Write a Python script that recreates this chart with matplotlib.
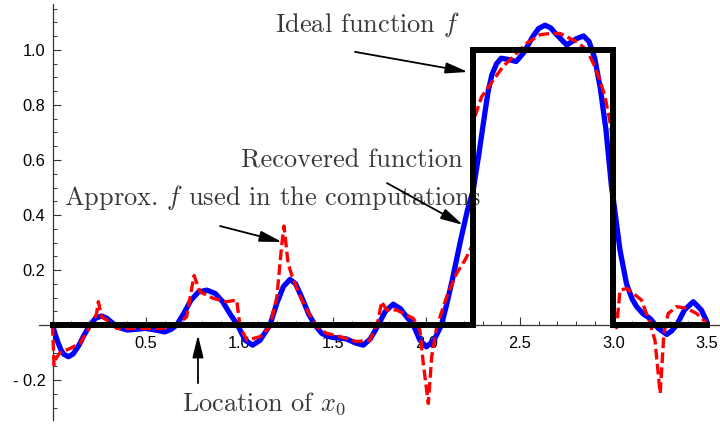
import numpy as np
import matplotlib
matplotlib.use('Agg')
import matplotlib.pyplot as plt
from matplotlib.ticker import MultipleLocator, FuncFormatter

# ideal step function f
ideal_x = [0.0, 2.25, 2.25, 3.0, 3.0, 3.5]
ideal_y = [0.0, 0.0, 1.0, 1.0, 0.0, 0.0]

# recovered function (blue)
rec_x = [0.00, 0.015, 0.03, 0.045, 0.06, 0.085, 0.11, 0.14, 0.17, 0.20, 0.23, 0.263, 0.29,
         0.32, 0.35, 0.40, 0.45, 0.50, 0.55, 0.60, 0.635, 0.664, 0.70, 0.74, 0.78, 0.825,
         0.87, 0.91, 0.95, 0.99, 1.03, 1.07, 1.11, 1.163, 1.20, 1.235, 1.27, 1.30, 1.34,
         1.37, 1.404, 1.44, 1.47, 1.50, 1.53, 1.57, 1.62, 1.662, 1.70, 1.742, 1.78, 1.822,
         1.86, 1.90, 1.93, 1.965, 2.00, 2.04, 2.08, 2.11, 2.14, 2.18, 2.22, 2.25, 2.28,
         2.31, 2.33, 2.35, 2.375, 2.40, 2.44, 2.48, 2.52, 2.57, 2.60, 2.634, 2.665, 2.69,
         2.75, 2.80, 2.84, 2.87, 2.90, 2.93, 2.96, 2.99, 3.00, 3.035, 3.07, 3.10, 3.124,
         3.16, 3.196, 3.24, 3.285, 3.31, 3.338, 3.38, 3.427, 3.47, 3.50]
rec_y = [0.000, -0.035, -0.065, -0.090, -0.106, -0.115, -0.105, -0.075, -0.035, 0.000, 0.025,
         0.033, 0.025, 0.008, -0.008, -0.018, -0.015, -0.012, -0.018, -0.025, -0.015, 0.000,
         0.040, 0.090, 0.120, 0.127, 0.115, 0.085, 0.040, 0.000, -0.055, -0.073, -0.055,
         0.000, 0.080, 0.140, 0.166, 0.150, 0.090, 0.040, 0.000, -0.030, -0.040, -0.045,
         -0.047, -0.050, -0.065, -0.073, -0.050, 0.000, 0.050, 0.076, 0.060, 0.025, 0.000,
         -0.055, -0.079, -0.055, 0.000, 0.080, 0.17, 0.30, 0.42, 0.49, 0.62, 0.76, 0.85,
         0.91, 0.95, 0.97, 0.965, 0.958, 0.99, 1.05, 1.078, 1.09, 1.08, 1.06, 1.018, 1.04,
         1.051, 1.03, 0.97, 0.86, 0.71, 0.50, 0.455, 0.273, 0.15, 0.095, 0.067, 0.040,
         0.024, -0.012, -0.034, -0.022, 0.000, 0.055, 0.085, 0.055, 0.012]

# approximation of f used in the computations (red dashed)
apx_x = [0.000, 0.008, 0.02, 0.04, 0.094, 0.147, 0.20, 0.235, 0.245, 0.263, 0.29, 0.343,
         0.468, 0.60, 0.664, 0.717, 0.757, 0.789, 0.86, 0.93, 0.985, 1.003, 1.04, 1.11,
         1.163, 1.20, 1.225, 1.238, 1.26, 1.288, 1.35, 1.413, 1.466, 1.537, 1.627, 1.698,
         1.742, 1.76, 1.787, 1.84, 1.93, 1.965, 1.983, 2.01, 2.028, 2.055, 2.108, 2.161,
         2.206, 2.233, 2.25, 2.255, 2.277, 2.295, 2.357, 2.41, 2.464, 2.536, 2.607, 2.66,
         2.714, 2.767, 2.803, 2.857, 2.892, 2.928, 2.955, 2.98, 2.99, 2.998, 3.005, 3.017,
         3.035, 3.07, 3.106, 3.15, 3.196, 3.222, 3.25, 3.27, 3.293, 3.338, 3.391, 3.445, 3.50]
apx_y = [0.000, -0.145, -0.120, -0.100, -0.085, -0.066, -0.006, 0.040, 0.085, 0.030, 0.018,
         -0.012, -0.012, -0.012, 0.000, 0.030, 0.180, 0.121, 0.097, 0.085, 0.091, -0.006,
         -0.055, -0.042, -0.006, 0.103, 0.285, 0.360, 0.224, 0.164, 0.067, -0.006, -0.030,
         -0.042, -0.060, -0.055, 0.018, 0.085, 0.055, 0.055, 0.024, -0.018, -0.140, -0.285,
         -0.115, -0.006, 0.103, 0.188, 0.236, 0.273, 0.300, 0.750, 0.794, 0.830, 0.890,
         0.940, 0.976, 1.024, 1.055, 1.060, 1.060, 1.042, 1.030, 1.000, 0.952, 0.890, 0.830,
         0.745, 0.697, 0.450, 0.050, -0.010, 0.127, 0.133, 0.115, 0.091, 0.006, -0.055,
         -0.248, -0.030, 0.042, 0.067, 0.061, 0.042, 0.006]

plt.rcParams['mathtext.fontset'] = 'cm'
txt_color = '#3a3a3a'
tick_font = 'Liberation Sans'

fig = plt.figure(figsize=(7.2, 4.25), dpi=100)
ax = fig.add_axes([38.5 / 720, 5 / 425, 681.5 / 720, 416 / 425])

ax.plot(rec_x, rec_y, color='#0000ff', lw=3.8, solid_capstyle='round',
        solid_joinstyle='round', zorder=3)
ax.plot(apx_x, apx_y, color='#ff0000', lw=2.4, linestyle=(0, (3.2, 1.3)), zorder=4)
ax.plot(ideal_x, ideal_y, color='black', lw=4.3, solid_joinstyle='miter',
        solid_capstyle='projecting', zorder=5)

ax.set_xlim(-0.075, 3.57)
ax.set_ylim(-0.345, 1.167)

# axes crossing at the origin
for s in ['top', 'right']:
    ax.spines[s].set_visible(False)
ax.spines['left'].set_position(('data', 0))
ax.spines['bottom'].set_position(('data', 0))
for s in ['left', 'bottom']:
    ax.spines[s].set_color('#333333')
    ax.spines[s].set_linewidth(0.9)

ax.xaxis.set_major_locator(MultipleLocator(0.5))
ax.xaxis.set_minor_locator(MultipleLocator(0.1))
ax.yaxis.set_major_locator(MultipleLocator(0.2))
ax.yaxis.set_minor_locator(MultipleLocator(0.05))


def fmt(v, pos):
    if abs(v) < 1e-9:
        return ''
    if v < 0:
        return '- %.1f' % abs(v)
    return '%.1f' % v


ax.xaxis.set_major_formatter(FuncFormatter(fmt))
ax.yaxis.set_major_formatter(FuncFormatter(fmt))
ax.tick_params(which='major', direction='in', length=5.5, width=0.8, color='#333333')
ax.tick_params(which='minor', direction='in', length=3, width=0.7, color='#333333')
ax.tick_params(axis='x', which='major', pad=8)
ax.tick_params(axis='y', which='major', pad=5)
for lab in ax.get_xticklabels() + ax.get_yticklabels():
    lab.set_fontfamily(tick_font)
    lab.set_fontsize(11.8)

# annotations
tkw = dict(fontfamily='cmr10', fontsize=19, color=txt_color, ha='center', va='baseline')
ax.text(1.682, 1.065, 'Ideal function $f$', **tkw)
ax.text(1.602, 0.571, 'Recovered function', **tkw)
ax.text(1.175, 0.436, 'Approx. $f$ used in the computations', **tkw)
ax.text(1.134, -0.309, 'Location of $x_0$', **tkw)

akw = dict(arrowstyle='-|>,head_length=0.9,head_width=0.22', color='black', lw=1.3,
           mutation_scale=15, shrinkA=0, shrinkB=0)
ax.annotate('', xy=(2.222, 0.92), xytext=(1.618, 0.993), arrowprops=akw)
ax.annotate('', xy=(2.195, 0.364), xytext=(1.789, 0.516), arrowprops=akw)
ax.annotate('', xy=(1.227, 0.302), xytext=(0.896, 0.36), arrowprops=akw)
ax.annotate('', xy=(0.778, -0.036), xytext=(0.778, -0.211), arrowprops=akw)

fig.savefig('out.png', dpi=100)
